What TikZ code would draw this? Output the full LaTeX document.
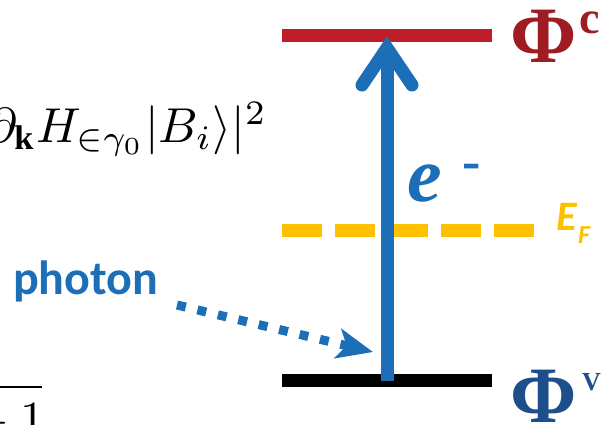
\documentclass[tikz,border=0pt]{standalone}
\usepackage{fontspec}
\setmainfont{Liberation Serif}
\newfontfamily\calib{Carlito}
\newfontfamily\tnr{Liberation Serif}
\usetikzlibrary{arrows.meta}
\definecolor{levred}{RGB}{190,30,42}
\definecolor{phired}{RGB}{158,28,34}
\definecolor{elblue}{RGB}{28,110,182}
\definecolor{phiblue}{RGB}{31,78,140}
\definecolor{fermi}{RGB}{255,192,0}
\tikzset{
  level/.style={line width=13pt},
  txt/.style={inner sep=0pt, outer sep=0pt},
  photonline/.style={elblue, line width=9pt, dash pattern=on 9pt off 12pt,
     -{Stealth[length=36pt,width=30pt,inset=9pt]}},
}
\begin{document}
\begin{tikzpicture}[x=1pt,y=-1pt]
\useasboundingbox (0,0) rectangle (601,424);
\clip (0,0) rectangle (601,424);
% formula fragments at left
\node[txt, scale=4.9, anchor=base west] (fH) at (36,142) {$H_{\in\gamma_0}|B_i\rangle|^2$};
\node[txt, scale=4.9, anchor=base east] (fk) at (fH.base west) {$\partial_{\mathbf{k}}$};
\node[txt, scale=4.9, anchor=base east] (fm) at (45,435) {${}-1$};
\draw[line width=2pt] (-2,387) -- (42,387);
% levels
\coordinate (cL) at (282,35.5);  \coordinate (cR) at (492,35.5);
\coordinate (vL) at (282,380.5); \coordinate (vR) at (492,380.5);
\coordinate (fL) at (282,230.5); \coordinate (fR) at (535,230.5);
\draw[level, levred] (cL) -- (cR);
\draw[level, black] (vL) -- (vR);
\draw[level, fermi, dash pattern=on 40pt off 13pt] (fL) -- (fR);
% electron arrow
\coordinate (ebot) at (387,381);
\coordinate (etip) at (387,48);
\draw[elblue, line width=13pt] (ebot) -- (etip);
\draw[elblue, line width=13pt, line cap=round, line join=miter]
  (362,85) -- (etip) -- (412,85);
% labels
\node[txt, anchor=base west, font=\tnr\bfseries\fontsize{80}{80}\selectfont, text=phired] (phic) at (510,62) {Φ};
\node[txt, anchor=base west, font=\tnr\bfseries\fontsize{46}{46}\selectfont, text=phired] (phicsup) at (579,33) {c};
\node[txt, anchor=base west, font=\tnr\bfseries\fontsize{80}{80}\selectfont, text=phiblue] (phiv) at (510,422) {Φ};
\node[txt, anchor=base west, font=\tnr\bfseries\fontsize{26}{26}\selectfont, text=phiblue] (phivsup) at (582,390) {V};
\node[txt, anchor=base west, font=\tnr\bfseries\itshape\fontsize{78}{78}\selectfont, text=elblue] (el) at (407,201) {e};
\node[txt, anchor=base, font=\tnr\bfseries\fontsize{55}{55}\selectfont, text=elblue] (elm) at (472,179) {-};
\node[txt, anchor=base west, font=\calib\bfseries\itshape\fontsize{42}{42}\selectfont, text=fermi] (EF) at (556,230) {E};
\node[txt, anchor=base west, font=\calib\bfseries\itshape\fontsize{26}{26}\selectfont, text=fermi] (EFs) at (578,243) {F};
\node[txt, anchor=base west, font=\calib\bfseries\fontsize{48}{48}\selectfont, text=elblue] (ph) at (13,294) {photon};
% photon arrow
\coordinate (p0) at (177,305);
\coordinate (p1) at (373,352);
\draw[photonline] (p0) -- (p1);
\end{tikzpicture}
\end{document}
